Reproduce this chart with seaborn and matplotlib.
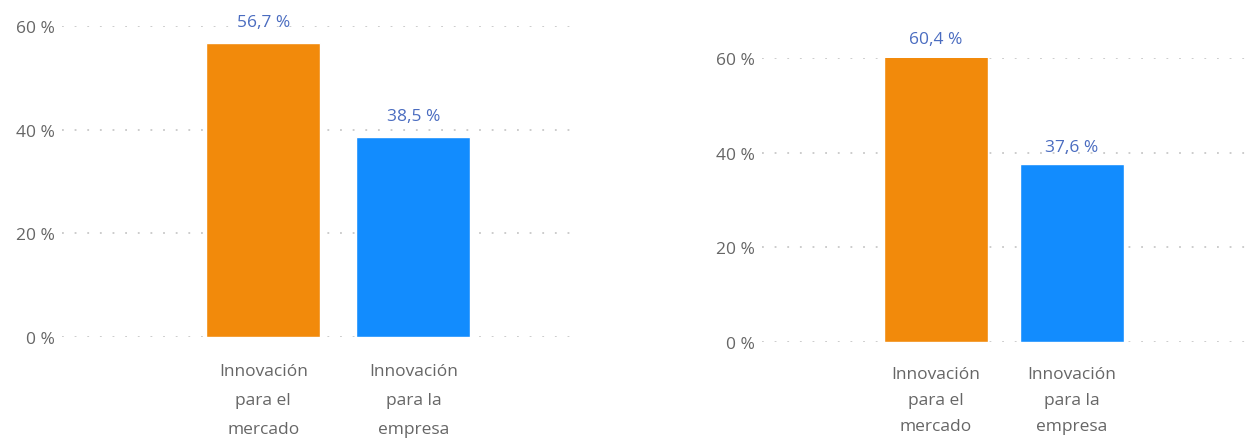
import matplotlib
matplotlib.use("Agg")
import matplotlib.pyplot as plt
import seaborn as sns
import pandas as pd

categories = ["Innovación\npara el\nmercado", "Innovación\npara la\nempresa"]
values_left = [56.7, 38.5]
values_right = [60.4, 37.6]
value_labels_left = ["56,7 %", "38,5 %"]
value_labels_right = ["60,4 %", "37,6 %"]
yticks = [0, 20, 40, 60]
ytick_labels = ["0 %", "20 %", "40 %", "60 %"]
colors = ["#F28A0B", "#128CFE"]

sns.set_theme(style="white")
plt.rcParams["font.family"] = ["Open Sans", "DejaVu Sans"]

fig = plt.figure(figsize=(12.5, 4.39), dpi=100)
ax1 = fig.add_axes([0.0496, 0.2300, 0.4144, 0.7085])
ax2 = fig.add_axes([0.6096, 0.2187, 0.3904, 0.6469])

def draw(ax, vals, labels, xlim, off, xpad, lsp):
    df = pd.DataFrame({"cat": categories, "val": vals})
    sns.barplot(data=df, x="cat", y="val", hue="cat", palette=colors,
                saturation=1, legend=False, width=0.76, ax=ax, zorder=3)
    ax.set_xlim(*xlim)
    ax.set_ylim(0, 60)
    ax.set_yticks(yticks)
    ax.set_yticklabels(ytick_labels)
    ax.set_xlabel("")
    ax.set_ylabel("")
    for s in ax.spines.values():
        s.set_visible(False)
    ax.grid(axis="y", color="#C8C8C8", linestyle=(0, (1, 6)), linewidth=1.3, zorder=0)
    ax.grid(axis="x", visible=False)
    ax.tick_params(axis="y", length=0, pad=5, labelsize=12.5, labelcolor="#666666")
    ax.tick_params(axis="x", length=0, pad=xpad, labelsize=12.5, labelcolor="#666666")
    for t in ax.get_xticklabels():
        t.set_linespacing(lsp)
    for i, (v, lab) in enumerate(zip(vals, labels)):
        ax.text(i, v + off, lab, ha="center", va="bottom", fontsize=12.5,
                color="#4A6CC0", clip_on=False)

draw(ax1, values_left, value_labels_left, (-1.34, 2.11), 2.5, 19, 2.05)
draw(ax2, values_right, value_labels_right, (-1.28, 2.31), 1.9, 17, 1.85)

fig.savefig("out.png", dpi=100)
